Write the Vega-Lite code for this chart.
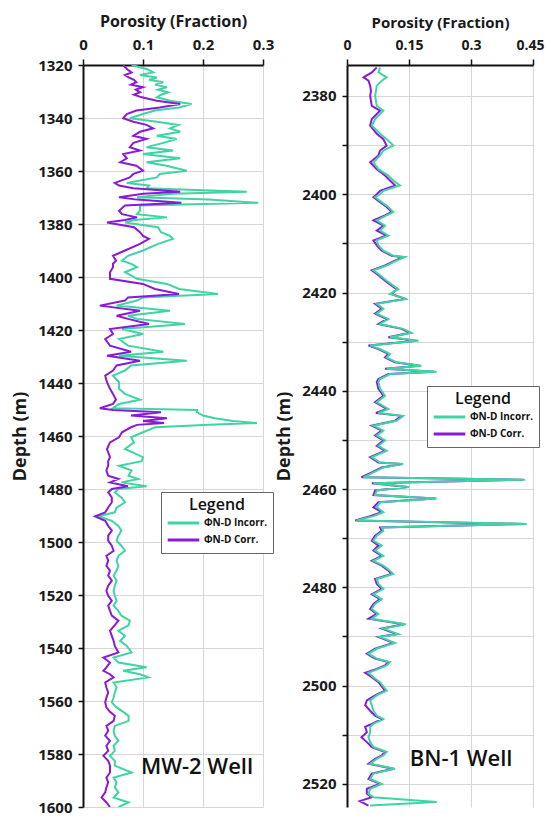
{
"$schema": "https://vega.github.io/schema/vega-lite/v6.json",
"background": "white",
"padding": {"left": 11, "top": 13, "right": 0, "bottom": 0},
"spacing": 84,
"bounds": "flush",
"config": {
  "font": "Open Sans",
  "view": {"stroke": null},
  "axis": {"labelFont": "Open Sans", "labelFontWeight": "bold", "labelFontSize": 15, "labelColor": "#1a1a1a", "titleFont": "Open Sans", "titleFontWeight": "bold", "titleColor": "#1a1a1a", "gridColor": "#d6d6d6", "gridWidth": 1, "domainColor": "#111111", "domainWidth": 2, "tickColor": "#111111", "tickWidth": 1.5, "tickSize": 5, "labelFlush": false, "labelOverlap": false},
  "legend": {"orient": "none", "titleFont": "Open Sans", "titleFontSize": 16, "titleFontWeight": 600, "titleColor": "#111111", "titleAnchor": "middle", "labelFont": "Open Sans", "labelFontSize": 10, "labelFontWeight": "bold", "labelColor": "#111111", "symbolType": "stroke", "symbolStrokeWidth": 3, "symbolSize": 1000, "strokeColor": "#666666", "fillColor": "white", "padding": 5, "rowPadding": 1, "clipHeight": 16, "labelOffset": 3, "titlePadding": 2}
},
"resolve": {"scale": {"color": "independent", "x": "independent", "y": "independent"}, "legend": {"color": "independent"}},
"datasets": {
"mwInc": [
{"d":1320,"v":0.081},{"d":1321.5,"v":0.106},{"d":1322.8,"v":0.117},{"d":1323.8,"v":0.095},{"d":1324.7,"v":0.123},{"d":1325.6,"v":0.11},{"d":1326.5,"v":0.134},{"d":1327.4,"v":0.12},{"d":1328.4,"v":0.14},{"d":1329.3,"v":0.125},{"d":1330.3,"v":0.142},{"d":1331.2,"v":0.13},{"d":1332.2,"v":0.123},{"d":1333.5,"v":0.145},{"d":1334.7,"v":0.181},{"d":1336,"v":0.16},{"d":1337.2,"v":0.12},{"d":1338.5,"v":0.1},{"d":1340.1,"v":0.078},{"d":1341.4,"v":0.123},{"d":1342.6,"v":0.159},{"d":1343.9,"v":0.145},{"d":1345.2,"v":0.162},{"d":1346.7,"v":0.123},{"d":1347.9,"v":0.156},{"d":1349.4,"v":0.134},{"d":1351,"v":0.106},{"d":1352.3,"v":0.15},{"d":1353.6,"v":0.1},{"d":1355.2,"v":0.162},{"d":1356.7,"v":0.106},{"d":1358,"v":0.139},{"d":1359.9,"v":0.173},{"d":1361.1,"v":0.128},{"d":1362.4,"v":0.123},{"d":1364.5,"v":0.073},{"d":1365.5,"v":0.11},{"d":1366.5,"v":0.106},{"d":1367.8,"v":0.273},{"d":1368.6,"v":0.15},{"d":1369.9,"v":0.09},{"d":1370.8,"v":0.21},{"d":1372,"v":0.292},{"d":1373,"v":0.095},{"d":1375,"v":0.095},{"d":1376.3,"v":0.09},{"d":1377.5,"v":0.14},{"d":1378.5,"v":0.085},{"d":1379.4,"v":0.07},{"d":1381.2,"v":0.125},{"d":1383.1,"v":0.13},{"d":1384.5,"v":0.145},{"d":1385.6,"v":0.15},{"d":1387.5,"v":0.125},{"d":1390,"v":0.1},{"d":1392,"v":0.075},{"d":1393.8,"v":0.065},{"d":1395,"v":0.08},{"d":1396.3,"v":0.09},{"d":1398.2,"v":0.07},{"d":1400.7,"v":0.09},{"d":1402.6,"v":0.14},{"d":1404.5,"v":0.16},{"d":1406.4,"v":0.225},{"d":1407.7,"v":0.1},{"d":1408.9,"v":0.09},{"d":1410.8,"v":0.056},{"d":1412.7,"v":0.145},{"d":1414.6,"v":0.075},{"d":1415.8,"v":0.09},{"d":1417.7,"v":0.17},{"d":1419.6,"v":0.065},{"d":1421.5,"v":0.1},{"d":1423.4,"v":0.06},{"d":1425.9,"v":0.075},{"d":1428.2,"v":0.134},{"d":1429.7,"v":0.06},{"d":1431.6,"v":0.173},{"d":1433.4,"v":0.08},{"d":1435.3,"v":0.07},{"d":1437.2,"v":0.05},{"d":1439.7,"v":0.06},{"d":1442.2,"v":0.06},{"d":1444.1,"v":0.07},{"d":1446.3,"v":0.095},{"d":1447.9,"v":0.06},{"d":1449.5,"v":0.05},{"d":1450.2,"v":0.19},{"d":1451,"v":0.19},{"d":1452.3,"v":0.2},{"d":1453.3,"v":0.22},{"d":1454.3,"v":0.25},{"d":1455.1,"v":0.29},{"d":1455.8,"v":0.21},{"d":1456.7,"v":0.12},{"d":1458.6,"v":0.1},{"d":1460.5,"v":0.08},{"d":1462.4,"v":0.085},{"d":1464.9,"v":0.07},{"d":1468,"v":0.1},{"d":1469.5,"v":0.098},{"d":1471.2,"v":0.06},{"d":1473,"v":0.081},{"d":1475,"v":0.076},{"d":1476.2,"v":0.092},{"d":1477.5,"v":0.064},{"d":1479,"v":0.106},{"d":1480,"v":0.059},{"d":1481.3,"v":0.053},{"d":1483.2,"v":0.064},{"d":1485,"v":0.07},{"d":1487,"v":0.056},{"d":1488.8,"v":0.053},{"d":1490.3,"v":0.026},{"d":1492,"v":0.048},{"d":1493.9,"v":0.059},{"d":1495.7,"v":0.064},{"d":1497.6,"v":0.059},{"d":1499.5,"v":0.056},{"d":1501.4,"v":0.064},{"d":1503.3,"v":0.07},{"d":1505.2,"v":0.059},{"d":1507,"v":0.056},{"d":1509,"v":0.059},{"d":1510.8,"v":0.056},{"d":1512.7,"v":0.051},{"d":1514.6,"v":0.056},{"d":1516.5,"v":0.053},{"d":1518.4,"v":0.051},{"d":1520.3,"v":0.053},{"d":1522.2,"v":0.056},{"d":1524,"v":0.051},{"d":1526,"v":0.059},{"d":1527.8,"v":0.064},{"d":1529.7,"v":0.078},{"d":1531.4,"v":0.076},{"d":1533.5,"v":0.059},{"d":1535.4,"v":0.07},{"d":1537.3,"v":0.062},{"d":1539.2,"v":0.073},{"d":1541.7,"v":0.081},{"d":1543.6,"v":0.051},{"d":1545.5,"v":0.059},{"d":1547.3,"v":0.106},{"d":1548.6,"v":0.067},{"d":1549.9,"v":0.095},{"d":1551.1,"v":0.109},{"d":1553,"v":0.051},{"d":1554.9,"v":0.056},{"d":1556.8,"v":0.053},{"d":1558.7,"v":0.051},{"d":1560.5,"v":0.048},{"d":1562.4,"v":0.056},{"d":1564.1,"v":0.067},{"d":1565.6,"v":0.076},{"d":1567.5,"v":0.076},{"d":1569.4,"v":0.053},{"d":1571.2,"v":0.051},{"d":1573.1,"v":0.053},{"d":1575,"v":0.059},{"d":1576.9,"v":0.051},{"d":1578.8,"v":0.053},{"d":1580.7,"v":0.045},{"d":1582.6,"v":0.053},{"d":1584.4,"v":0.053},{"d":1587,"v":0.081},{"d":1588.9,"v":0.051},{"d":1590.7,"v":0.056},{"d":1592.6,"v":0.053},{"d":1594.5,"v":0.059},{"d":1596.4,"v":0.051},{"d":1598.3,"v":0.076},{"d":1600,"v":0.059}
],
"mwCor": [
{"d":1320,"v":0.067},{"d":1321.5,"v":0.073},{"d":1322.8,"v":0.081},{"d":1323.8,"v":0.07},{"d":1324.7,"v":0.076},{"d":1325.6,"v":0.085},{"d":1326.5,"v":0.089},{"d":1327.4,"v":0.08},{"d":1328.4,"v":0.1},{"d":1329.3,"v":0.088},{"d":1330.3,"v":0.095},{"d":1331.2,"v":0.085},{"d":1332.2,"v":0.098},{"d":1333.5,"v":0.123},{"d":1334.7,"v":0.162},{"d":1336,"v":0.128},{"d":1337.2,"v":0.089},{"d":1338.5,"v":0.073},{"d":1340.1,"v":0.067},{"d":1341.4,"v":0.084},{"d":1342.6,"v":0.106},{"d":1343.9,"v":0.117},{"d":1345.2,"v":0.095},{"d":1346.7,"v":0.084},{"d":1347.9,"v":0.106},{"d":1349.4,"v":0.084},{"d":1351,"v":0.078},{"d":1352.3,"v":0.095},{"d":1353.6,"v":0.067},{"d":1355.2,"v":0.073},{"d":1356.7,"v":0.062},{"d":1358,"v":0.089},{"d":1359.9,"v":0.1},{"d":1361.1,"v":0.084},{"d":1362.4,"v":0.078},{"d":1364.5,"v":0.053},{"d":1365.5,"v":0.06},{"d":1366.5,"v":0.084},{"d":1367.8,"v":0.162},{"d":1368.6,"v":0.1},{"d":1369.9,"v":0.06},{"d":1370.8,"v":0.09},{"d":1372,"v":0.164},{"d":1373,"v":0.07},{"d":1375,"v":0.06},{"d":1376.3,"v":0.065},{"d":1377.5,"v":0.09},{"d":1378.5,"v":0.07},{"d":1379.4,"v":0.04},{"d":1381.2,"v":0.085},{"d":1383.1,"v":0.095},{"d":1384.5,"v":0.1},{"d":1385.6,"v":0.11},{"d":1387.5,"v":0.095},{"d":1390,"v":0.07},{"d":1392,"v":0.05},{"d":1393.8,"v":0.055},{"d":1395,"v":0.05},{"d":1396.3,"v":0.05},{"d":1398.2,"v":0.045},{"d":1400.7,"v":0.045},{"d":1402.6,"v":0.1},{"d":1404.5,"v":0.12},{"d":1406.4,"v":0.16},{"d":1407.7,"v":0.075},{"d":1408.9,"v":0.07},{"d":1410.8,"v":0.028},{"d":1412.7,"v":0.095},{"d":1414.6,"v":0.056},{"d":1415.8,"v":0.075},{"d":1417.7,"v":0.11},{"d":1419.6,"v":0.045},{"d":1421.5,"v":0.05},{"d":1423.4,"v":0.037},{"d":1425.9,"v":0.045},{"d":1428.2,"v":0.08},{"d":1429.7,"v":0.04},{"d":1431.6,"v":0.095},{"d":1433.4,"v":0.056},{"d":1435.3,"v":0.05},{"d":1437.2,"v":0.037},{"d":1439.7,"v":0.04},{"d":1442.2,"v":0.045},{"d":1444.1,"v":0.05},{"d":1446.3,"v":0.055},{"d":1447.9,"v":0.05},{"d":1449.5,"v":0.028},{"d":1450.2,"v":0.05},{"d":1451,"v":0.13},{"d":1452.3,"v":0.08},{"d":1453.3,"v":0.14},{"d":1454.3,"v":0.1},{"d":1455.1,"v":0.135},{"d":1455.8,"v":0.09},{"d":1456.7,"v":0.08},{"d":1458.6,"v":0.065},{"d":1460.5,"v":0.06},{"d":1462.4,"v":0.045},{"d":1464.9,"v":0.04},{"d":1468,"v":0.045},{"d":1469.5,"v":0.042},{"d":1471.2,"v":0.042},{"d":1473,"v":0.039},{"d":1475,"v":0.042},{"d":1476.2,"v":0.059},{"d":1477.5,"v":0.045},{"d":1479,"v":0.075},{"d":1480,"v":0.048},{"d":1481.3,"v":0.042},{"d":1483.2,"v":0.048},{"d":1485,"v":0.048},{"d":1487,"v":0.042},{"d":1488.8,"v":0.037},{"d":1490.3,"v":0.02},{"d":1492,"v":0.037},{"d":1493.9,"v":0.042},{"d":1495.7,"v":0.048},{"d":1497.6,"v":0.042},{"d":1499.5,"v":0.042},{"d":1501.4,"v":0.048},{"d":1503.3,"v":0.051},{"d":1505.2,"v":0.039},{"d":1507,"v":0.042},{"d":1509,"v":0.039},{"d":1510.8,"v":0.045},{"d":1512.7,"v":0.042},{"d":1514.6,"v":0.048},{"d":1516.5,"v":0.042},{"d":1518.4,"v":0.039},{"d":1520.3,"v":0.042},{"d":1522.2,"v":0.048},{"d":1524,"v":0.042},{"d":1526,"v":0.045},{"d":1527.8,"v":0.048},{"d":1529.7,"v":0.059},{"d":1531.4,"v":0.053},{"d":1533.5,"v":0.045},{"d":1535.4,"v":0.048},{"d":1537.3,"v":0.051},{"d":1539.2,"v":0.053},{"d":1541.7,"v":0.059},{"d":1543.6,"v":0.034},{"d":1545.5,"v":0.045},{"d":1547.3,"v":0.039},{"d":1548.6,"v":0.034},{"d":1549.9,"v":0.045},{"d":1551.1,"v":0.051},{"d":1553,"v":0.037},{"d":1554.9,"v":0.039},{"d":1556.8,"v":0.042},{"d":1558.7,"v":0.039},{"d":1560.5,"v":0.037},{"d":1562.4,"v":0.039},{"d":1564.1,"v":0.045},{"d":1565.6,"v":0.053},{"d":1567.5,"v":0.051},{"d":1569.4,"v":0.039},{"d":1571.2,"v":0.042},{"d":1573.1,"v":0.037},{"d":1575,"v":0.045},{"d":1576.9,"v":0.039},{"d":1578.8,"v":0.042},{"d":1580.7,"v":0.034},{"d":1582.6,"v":0.042},{"d":1584.4,"v":0.045},{"d":1587,"v":0.045},{"d":1588.9,"v":0.039},{"d":1590.7,"v":0.042},{"d":1592.6,"v":0.039},{"d":1594.5,"v":0.037},{"d":1596.4,"v":0.031},{"d":1598.3,"v":0.039},{"d":1600,"v":0.045}
],
"bnInc": [
{"d":2374.2,"v":0.08},{"d":2375.2,"v":0.076},{"d":2376.2,"v":0.096},{"d":2376.9,"v":0.084},{"d":2377.9,"v":0.072},{"d":2379,"v":0.07},{"d":2380,"v":0.068},{"d":2382,"v":0.072},{"d":2383,"v":0.088},{"d":2384.7,"v":0.068},{"d":2386,"v":0.06},{"d":2387.7,"v":0.08},{"d":2388.8,"v":0.096},{"d":2390.1,"v":0.112},{"d":2391.1,"v":0.088},{"d":2392.1,"v":0.08},{"d":2393.5,"v":0.064},{"d":2394.9,"v":0.076},{"d":2396.2,"v":0.1},{"d":2397.2,"v":0.112},{"d":2398.2,"v":0.128},{"d":2399.3,"v":0.088},{"d":2400,"v":0.08},{"d":2400.6,"v":0.068},{"d":2401.6,"v":0.084},{"d":2402.6,"v":0.1},{"d":2403.6,"v":0.112},{"d":2404.3,"v":0.096},{"d":2405.3,"v":0.072},{"d":2406.4,"v":0.092},{"d":2407.4,"v":0.08},{"d":2408.4,"v":0.1},{"d":2409.4,"v":0.072},{"d":2410.4,"v":0.076},{"d":2411.5,"v":0.088},{"d":2412.5,"v":0.112},{"d":2412.8,"v":0.14},{"d":2413.5,"v":0.12},{"d":2414.5,"v":0.096},{"d":2415.5,"v":0.064},{"d":2416.5,"v":0.08},{"d":2417.6,"v":0.096},{"d":2418.6,"v":0.112},{"d":2419.3,"v":0.124},{"d":2420.3,"v":0.104},{"d":2421.3,"v":0.144},{"d":2422.3,"v":0.072},{"d":2423.3,"v":0.088},{"d":2424.3,"v":0.072},{"d":2425.4,"v":0.1},{"d":2426.4,"v":0.08},{"d":2427.4,"v":0.136},{"d":2428.2,"v":0.156},{"d":2429.1,"v":0.104},{"d":2429.8,"v":0.173},{"d":2430.8,"v":0.056},{"d":2431.5,"v":0.08},{"d":2432.5,"v":0.104},{"d":2433.2,"v":0.096},{"d":2434.2,"v":0.12},{"d":2434.9,"v":0.18},{"d":2435.5,"v":0.096},{"d":2436.1,"v":0.217},{"d":2436.6,"v":0.104},{"d":2437.6,"v":0.08},{"d":2438.2,"v":0.076},{"d":2439.6,"v":0.08},{"d":2441,"v":0.092},{"d":2442.3,"v":0.072},{"d":2443.7,"v":0.1},{"d":2444.5,"v":0.076},{"d":2445.1,"v":0.136},{"d":2446.1,"v":0.12},{"d":2447.1,"v":0.064},{"d":2448.1,"v":0.088},{"d":2449.1,"v":0.072},{"d":2450.1,"v":0.092},{"d":2451.2,"v":0.076},{"d":2452.2,"v":0.096},{"d":2453.5,"v":0.06},{"d":2454.6,"v":0.08},{"d":2454.9,"v":0.136},{"d":2455.6,"v":0.088},{"d":2456.6,"v":0.064},{"d":2457.6,"v":0.04},{"d":2458.1,"v":0.431},{"d":2458.8,"v":0.064},{"d":2459.6,"v":0.15},{"d":2460.3,"v":0.072},{"d":2461.2,"v":0.068},{"d":2461.9,"v":0.217},{"d":2462.7,"v":0.08},{"d":2463.7,"v":0.072},{"d":2464.7,"v":0.088},{"d":2465.5,"v":0.064},{"d":2466.4,"v":0.023},{"d":2467.1,"v":0.435},{"d":2467.8,"v":0.084},{"d":2468.5,"v":0.088},{"d":2469.5,"v":0.072},{"d":2470.5,"v":0.064},{"d":2471.5,"v":0.084},{"d":2472.5,"v":0.068},{"d":2473.6,"v":0.088},{"d":2474.6,"v":0.064},{"d":2475.6,"v":0.088},{"d":2476.6,"v":0.104},{"d":2477.3,"v":0.112},{"d":2478.3,"v":0.072},{"d":2479.3,"v":0.076},{"d":2480.3,"v":0.088},{"d":2481.4,"v":0.064},{"d":2482.4,"v":0.084},{"d":2483.4,"v":0.068},{"d":2484.4,"v":0.06},{"d":2485.4,"v":0.076},{"d":2486.4,"v":0.06},{"d":2487.5,"v":0.142},{"d":2488.4,"v":0.088},{"d":2489.5,"v":0.124},{"d":2490.1,"v":0.08},{"d":2491.3,"v":0.116},{"d":2492.5,"v":0.072},{"d":2493.5,"v":0.052},{"d":2494.5,"v":0.072},{"d":2495.2,"v":0.104},{"d":2495.9,"v":0.096},{"d":2496.6,"v":0.076},{"d":2497.4,"v":0.052},{"d":2498.3,"v":0.064},{"d":2499.3,"v":0.08},{"d":2501,"v":0.096},{"d":2502,"v":0.072},{"d":2503,"v":0.056},{"d":2504,"v":0.06},{"d":2505.1,"v":0.064},{"d":2506.1,"v":0.072},{"d":2506.8,"v":0.088},{"d":2507.8,"v":0.064},{"d":2508.4,"v":0.056},{"d":2509.5,"v":0.056},{"d":2510.5,"v":0.052},{"d":2511.5,"v":0.056},{"d":2512.5,"v":0.064},{"d":2513.5,"v":0.096},{"d":2514.2,"v":0.088},{"d":2514.9,"v":0.072},{"d":2515.9,"v":0.056},{"d":2516.9,"v":0.116},{"d":2517.9,"v":0.064},{"d":2519,"v":0.056},{"d":2520,"v":0.084},{"d":2521,"v":0.056},{"d":2522,"v":0.052},{"d":2522.7,"v":0.064},{"d":2523.7,"v":0.217},{"d":2524.4,"v":0.056}
],
"bnCor": [
{"d":2374.2,"v":0.072},{"d":2375.2,"v":0.06},{"d":2376.2,"v":0.04},{"d":2376.9,"v":0.052},{"d":2377.9,"v":0.056},{"d":2379,"v":0.058},{"d":2380,"v":0.056},{"d":2382,"v":0.06},{"d":2383,"v":0.08},{"d":2384.7,"v":0.06},{"d":2386,"v":0.056},{"d":2387.7,"v":0.072},{"d":2388.8,"v":0.088},{"d":2390.1,"v":0.096},{"d":2391.1,"v":0.08},{"d":2392.1,"v":0.076},{"d":2393.5,"v":0.056},{"d":2394.9,"v":0.072},{"d":2396.2,"v":0.092},{"d":2397.2,"v":0.104},{"d":2398.2,"v":0.116},{"d":2399.3,"v":0.08},{"d":2400,"v":0.072},{"d":2400.6,"v":0.064},{"d":2401.6,"v":0.08},{"d":2402.6,"v":0.096},{"d":2403.6,"v":0.108},{"d":2404.3,"v":0.092},{"d":2405.3,"v":0.064},{"d":2406.4,"v":0.088},{"d":2407.4,"v":0.072},{"d":2408.4,"v":0.096},{"d":2409.4,"v":0.064},{"d":2410.4,"v":0.072},{"d":2411.5,"v":0.084},{"d":2412.5,"v":0.108},{"d":2412.8,"v":0.136},{"d":2413.5,"v":0.116},{"d":2414.5,"v":0.092},{"d":2415.5,"v":0.06},{"d":2416.5,"v":0.076},{"d":2417.6,"v":0.092},{"d":2418.6,"v":0.108},{"d":2419.3,"v":0.12},{"d":2420.3,"v":0.108},{"d":2421.3,"v":0.14},{"d":2422.3,"v":0.068},{"d":2423.3,"v":0.084},{"d":2424.3,"v":0.068},{"d":2425.4,"v":0.096},{"d":2426.4,"v":0.076},{"d":2427.4,"v":0.132},{"d":2428.2,"v":0.152},{"d":2429.1,"v":0.1},{"d":2429.8,"v":0.168},{"d":2430.8,"v":0.052},{"d":2431.5,"v":0.076},{"d":2432.5,"v":0.1},{"d":2433.2,"v":0.092},{"d":2434.2,"v":0.116},{"d":2434.9,"v":0.176},{"d":2435.5,"v":0.092},{"d":2436.1,"v":0.21},{"d":2436.6,"v":0.1},{"d":2437.6,"v":0.076},{"d":2438.2,"v":0.072},{"d":2439.6,"v":0.076},{"d":2441,"v":0.088},{"d":2442.3,"v":0.068},{"d":2443.7,"v":0.096},{"d":2444.5,"v":0.07},{"d":2445.1,"v":0.132},{"d":2446.1,"v":0.116},{"d":2447.1,"v":0.06},{"d":2448.1,"v":0.084},{"d":2449.1,"v":0.068},{"d":2450.1,"v":0.088},{"d":2451.2,"v":0.072},{"d":2452.2,"v":0.092},{"d":2453.5,"v":0.056},{"d":2454.6,"v":0.076},{"d":2454.9,"v":0.132},{"d":2455.6,"v":0.084},{"d":2456.6,"v":0.06},{"d":2457.6,"v":0.035},{"d":2458.1,"v":0.425},{"d":2458.8,"v":0.06},{"d":2459.6,"v":0.146},{"d":2460.3,"v":0.068},{"d":2461.2,"v":0.064},{"d":2461.9,"v":0.213},{"d":2462.7,"v":0.076},{"d":2463.7,"v":0.064},{"d":2464.7,"v":0.084},{"d":2465.5,"v":0.056},{"d":2466.4,"v":0.02},{"d":2467.1,"v":0.43},{"d":2467.8,"v":0.08},{"d":2468.5,"v":0.084},{"d":2469.5,"v":0.068},{"d":2470.5,"v":0.06},{"d":2471.5,"v":0.076},{"d":2472.5,"v":0.064},{"d":2473.6,"v":0.084},{"d":2474.6,"v":0.06},{"d":2475.6,"v":0.084},{"d":2476.6,"v":0.1},{"d":2477.3,"v":0.108},{"d":2478.3,"v":0.068},{"d":2479.3,"v":0.072},{"d":2480.3,"v":0.084},{"d":2481.4,"v":0.06},{"d":2482.4,"v":0.08},{"d":2483.4,"v":0.064},{"d":2484.4,"v":0.056},{"d":2485.4,"v":0.072},{"d":2486.4,"v":0.052},{"d":2487.5,"v":0.138},{"d":2488.4,"v":0.084},{"d":2489.5,"v":0.12},{"d":2490.1,"v":0.076},{"d":2491.3,"v":0.112},{"d":2492.5,"v":0.068},{"d":2493.5,"v":0.048},{"d":2494.5,"v":0.068},{"d":2495.2,"v":0.1},{"d":2495.9,"v":0.092},{"d":2496.6,"v":0.072},{"d":2497.4,"v":0.044},{"d":2498.3,"v":0.06},{"d":2499.3,"v":0.076},{"d":2501,"v":0.092},{"d":2502,"v":0.068},{"d":2503,"v":0.048},{"d":2504,"v":0.044},{"d":2505.1,"v":0.056},{"d":2506.1,"v":0.068},{"d":2506.8,"v":0.084},{"d":2507.8,"v":0.06},{"d":2508.4,"v":0.044},{"d":2509.5,"v":0.048},{"d":2510.5,"v":0.035},{"d":2511.5,"v":0.048},{"d":2512.5,"v":0.06},{"d":2513.5,"v":0.092},{"d":2514.2,"v":0.084},{"d":2514.9,"v":0.068},{"d":2515.9,"v":0.052},{"d":2516.9,"v":0.112},{"d":2517.9,"v":0.06},{"d":2519,"v":0.052},{"d":2520,"v":0.08},{"d":2521,"v":0.048},{"d":2522,"v":0.048},{"d":2522.7,"v":0.06},{"d":2523.5,"v":0.031},{"d":2524.4,"v":0.052}
]
},
"hconcat": [
{
 "width": 180, "height": 742,
 "layer": [
  {"data": {"name": "mwInc"}, "mark": {"type": "line", "strokeWidth": 2, "clip": true},
   "encoding": {
    "x": {"field": "v", "type": "quantitative", "scale": {"domain": [0, 0.3], "nice": false, "zero": false},
      "axis": {"orient": "top", "title": "Porosity (Fraction)", "titleFontSize": 16, "titlePadding": 8, "values": [0, 0.05, 0.1, 0.15, 0.2, 0.25, 0.3], "labelExpr": "abs(round(datum.value*100)) % 10 == 0 ? format(datum.value, '~g') : ''", "tickOpacity": {"condition": {"test": "abs(round(datum.value*100)) % 10 == 0", "value": 1}, "value": 0}, "tickSize": 6, "labelPadding": 7, "grid": true}},
    "y": {"field": "d", "type": "quantitative", "scale": {"domain": [1320, 1600], "reverse": true, "nice": false, "zero": false},
      "axis": {"title": "Depth (m)", "titleFontSize": 18, "titlePadding": 8, "values": [1320,1330,1340,1350,1360,1370,1380,1390,1400,1410,1420,1430,1440,1450,1460,1470,1480,1490,1500,1510,1520,1530,1540,1550,1560,1570,1580,1590,1600], "format": "d", "labelExpr": "datum.value % 20 == 0 ? datum.label : ''", "labelPadding": 6, "grid": true}},
    "order": {"field": "d", "type": "quantitative"},
    "color": {"datum": "ΦN-D Incorr.", "scale": {"domain": ["ΦN-D Incorr.", "ΦN-D Corr."], "range": ["#3fd4a4", "#8a1ad6"]}, "legend": {"title": "Legend", "legendX": 78, "legendY": 427}}
   }},
  {"data": {"name": "mwCor"}, "mark": {"type": "line", "strokeWidth": 2, "clip": true},
   "encoding": {
    "x": {"field": "v", "type": "quantitative"},
    "y": {"field": "d", "type": "quantitative"},
    "order": {"field": "d", "type": "quantitative"},
    "color": {"datum": "ΦN-D Corr.", "legend": {"title": "Legend", "legendX": 78, "legendY": 427}}
   }},
  {"data": {"values": [{"v": 0.19, "d": 1585, "t": "MW-2 Well"}]}, "mark": {"type": "text", "font": "Open Sans", "fontSize": 22, "fontWeight": 600, "color": "#111111", "baseline": "middle", "align": "center"},
   "encoding": {"x": {"field": "v", "type": "quantitative"}, "y": {"field": "d", "type": "quantitative"}, "text": {"field": "t"}}}
 ]
},
{
 "width": 186, "height": 742,
 "layer": [
  {"data": {"name": "bnCor"}, "mark": {"type": "line", "strokeWidth": 2, "clip": true},
   "encoding": {
    "x": {"field": "v", "type": "quantitative", "scale": {"domain": [0, 0.45], "nice": false, "zero": false},
      "axis": {"orient": "top", "title": "Porosity (Fraction)", "titleFontSize": 15, "titlePadding": 8, "labelFontSize": 14, "values": [0, 0.075, 0.15, 0.225, 0.3, 0.375, 0.45], "labelExpr": "abs(round(datum.value*1000)) % 150 == 0 ? format(datum.value, '~g') : ''", "labelOffset": {"condition": {"test": "datum.value > 0.44", "value": -3}, "value": 0}, "tickOpacity": {"condition": {"test": "abs(round(datum.value*1000)) % 150 == 0", "value": 1}, "value": 0}, "tickSize": 6, "labelPadding": 7, "grid": true}},
    "y": {"field": "d", "type": "quantitative", "scale": {"domain": [2373.7, 2524.7], "reverse": true, "nice": false, "zero": false},
      "axis": {"title": "Depth (m)", "titleFontSize": 18, "titlePadding": 8, "values": [2380,2390,2400,2410,2420,2430,2440,2450,2460,2470,2480,2490,2500,2510,2520], "format": "d", "labelExpr": "datum.value % 20 == 0 ? datum.label : ''", "labelPadding": 6, "grid": true}},
    "order": {"field": "d", "type": "quantitative"},
    "color": {"datum": "ΦN-D Corr.", "scale": {"domain": ["ΦN-D Incorr.", "ΦN-D Corr."], "range": ["#3fd4a4", "#8a1ad6"]}, "legend": {"title": "Legend", "legendX": 80, "legendY": 321}}
   }},
  {"data": {"name": "bnInc"}, "mark": {"type": "line", "strokeWidth": 2, "clip": true},
   "encoding": {
    "x": {"field": "v", "type": "quantitative"},
    "y": {"field": "d", "type": "quantitative"},
    "order": {"field": "d", "type": "quantitative"},
    "color": {"datum": "ΦN-D Incorr.", "legend": {"title": "Legend", "legendX": 80, "legendY": 321}}
   }},
  {"data": {"values": [{"v": 0.276, "d": 2515, "t": "BN-1 Well"}]}, "mark": {"type": "text", "font": "Open Sans", "fontSize": 22, "fontWeight": 600, "color": "#111111", "baseline": "middle", "align": "center"},
   "encoding": {"x": {"field": "v", "type": "quantitative"}, "y": {"field": "d", "type": "quantitative"}, "text": {"field": "t"}}}
 ]
}
]
}
